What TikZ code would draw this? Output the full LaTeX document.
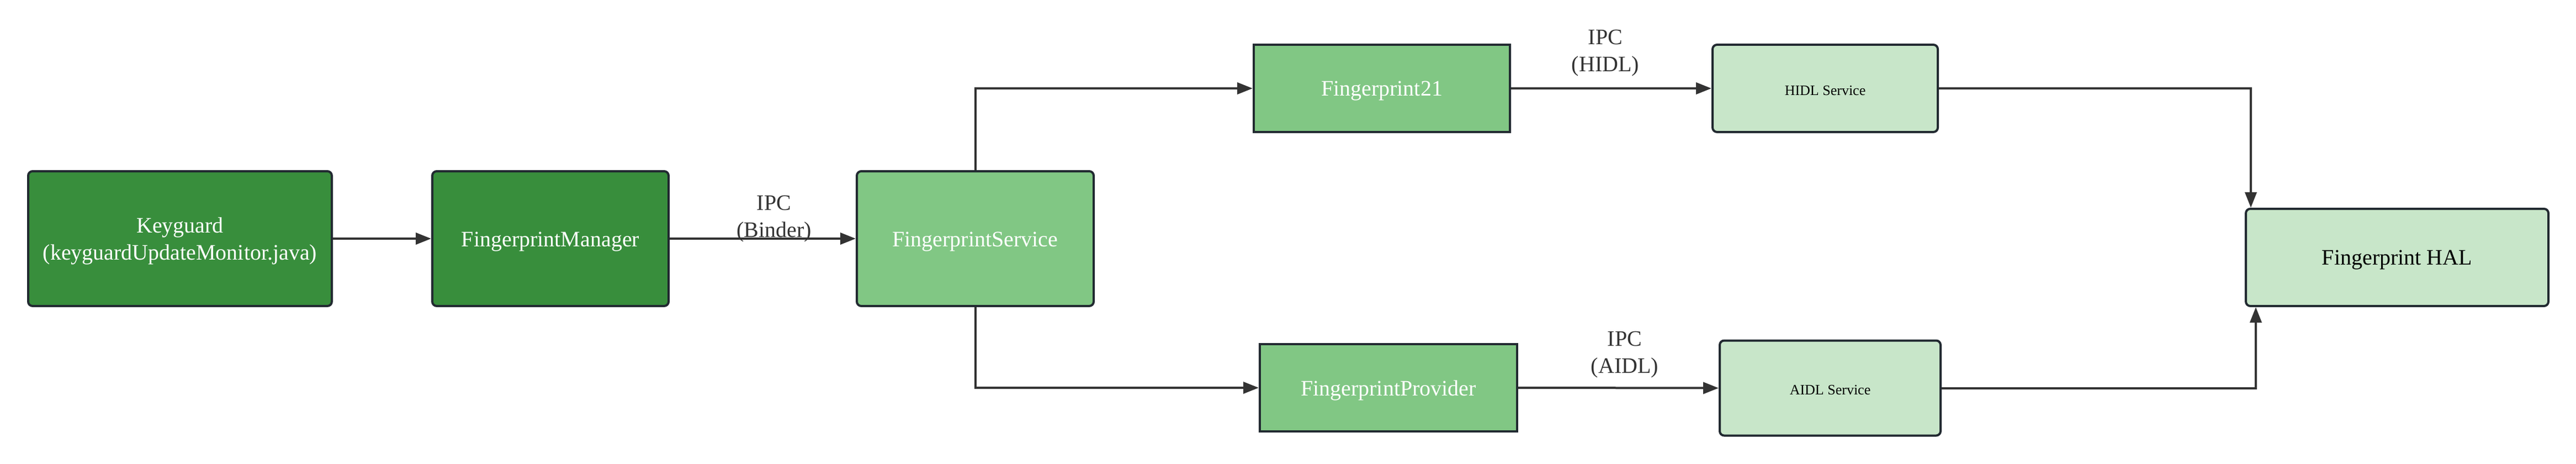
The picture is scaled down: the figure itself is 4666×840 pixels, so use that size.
\documentclass[tikz,border=0pt]{standalone}
\usepackage{fontspec}
\setmainfont{Liberation Serif}
\usetikzlibrary{arrows.meta}
\definecolor{dkgreen}{HTML}{388E3C}
\definecolor{mdgreen}{HTML}{81C784}
\definecolor{ltgreen}{HTML}{C8E6C9}
\definecolor{bordc}{HTML}{222A31}
\definecolor{arrc}{HTML}{333333}
\begin{document}
\begin{tikzpicture}[x=1pt,y=-1pt,
  box/.style={draw=bordc, line width=4pt, rectangle, inner sep=0pt, align=center,
    font=\fontsize{40}{49}\selectfont, text height=36pt, text depth=8pt},
  darkbox/.style={box, fill=dkgreen, text=white, rounded corners=8pt},
  midbox/.style={box, fill=mdgreen, text=white},
  lightbox/.style={box, fill=ltgreen, text=black, rounded corners=8pt},
  small/.style={font=\fontsize{26}{31}\selectfont, text height=24pt, text depth=0pt},
  twoline/.style={text height=85pt, text depth=9pt},
  conn/.style={draw=arrc, line width=4pt, -{Triangle[length=28pt,width=21pt]}},
  lbl/.style={text=arrc, align=center, inner sep=0pt, font=\fontsize{40}{49}\selectfont}
]
\useasboundingbox (0,0) rectangle (4666,840);
\fill[white] (0,0) rectangle (4666,840);

\node[darkbox, twoline, minimum width=550pt, minimum height=244pt] (kg) at (326,432)
  {Keyguard\\(keyguardUpdateMonitor.java)};
\node[darkbox, minimum width=428pt, minimum height=244pt] (fm) at (997,432)
  {FingerprintManager};
\node[midbox, rounded corners=8pt, minimum width=429pt, minimum height=244pt] (fs) at (1766.5,432)
  {FingerprintService};
\node[midbox, minimum width=464pt, minimum height=158pt] (f21) at (2503,160)
  {Fingerprint21};
\node[midbox, minimum width=466pt, minimum height=158pt] (fp) at (2515,702)
  {FingerprintProvider};
\node[lightbox, small, minimum width=408pt, minimum height=158pt] (hidl) at (3306,160)
  {HIDL Service};
\node[lightbox, small, minimum width=400pt, minimum height=172pt] (aidl) at (3315,702.5)
  {AIDL Service};
\node[lightbox, text height=34pt, minimum width=548pt, minimum height=176pt] (hal) at (4342,466)
  {Fingerprint HAL};

\node[lbl] (l1) at (1402,396) {IPC\\(Binder)};
\node[lbl] (l2) at (2908,96) {IPC\\(HIDL)};
\node[lbl] (l3) at (2943,642) {IPC\\(AIDL)};

\draw[conn] (kg.east) -- (fm.west);
\draw[conn] (fm.east) -- (fs.west);
\draw[conn] (fs.north) |- (f21.west);
\draw[conn] (fs.south) |- (fp.west);
\draw[conn] (f21.east) -- (hidl.west);
\draw[conn] (fp.east) -- (aidl.west);
\draw[conn] (hidl.east) -| ([xshift=11pt]hal.north west);
\draw[conn] (aidl.east) -| ([xshift=20pt]hal.south west);
\end{tikzpicture}
\end{document}
